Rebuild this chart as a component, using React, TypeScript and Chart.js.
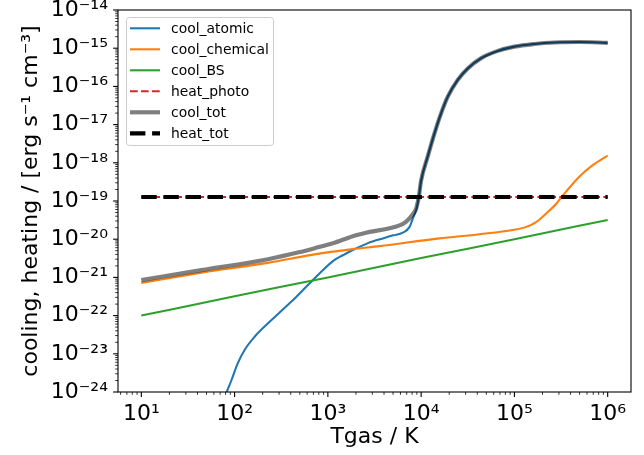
import React, { useEffect, useRef } from 'react';
import { Chart, registerables } from 'chart.js';
Chart.register(...registerables);

// ---- data ----
const atomicT = [71, 81.5, 92.3, 108, 128, 164, 228, 316, 440, 611, 849, 1160, 1450, 1850, 2690, 3890, 5010, 6370, 7520, 8150, 8850, 9440, 10000, 11800, 13900, 16400, 19300, 24700, 31600, 44100, 66400, 100000, 164000, 269000, 501000, 1000000];
const atomicV = [3.5e-25, 9.3e-25, 2.0e-24, 5.6e-24, 1.26e-23, 2.8e-23, 6.3e-23, 1.32e-22, 2.8e-22, 6.3e-22, 1.41e-21, 2.8e-21, 3.8e-21, 5.2e-21, 7.9e-21, 1.05e-20, 1.26e-20, 1.48e-20, 2.1e-20, 3.5e-20, 5.8e-20, 1.26e-19, 3.4e-19, 1.5e-18, 5.9e-18, 2.0e-17, 5.4e-17, 1.48e-16, 2.95e-16, 5.5e-16, 8.5e-16, 1.10e-15, 1.29e-15, 1.41e-15, 1.45e-15, 1.38e-15];

const chemT = [10, 44, 228, 720, 1850, 3580, 15700, 42300, 96200, 134000, 171000, 219000, 281000, 320000, 359000, 499000, 692000, 1000000];
const chemV = [7.2e-22, 1.32e-21, 2.4e-21, 4.0e-21, 5.5e-21, 6.6e-21, 1.05e-20, 1.35e-20, 1.74e-20, 2.1e-20, 2.8e-20, 4.7e-20, 8.5e-20, 1.26e-19, 1.78e-19, 4.4e-19, 8.7e-19, 1.55e-18];

const bsT = [10, 100, 1000, 10000, 100000, 1000000];
const bsV = [1.0e-22, 3.2e-22, 1.0e-21, 3.2e-21, 1.0e-20, 3.2e-20];

const heatT = [10, 1000000];
const photoV = [1.27e-19, 1.27e-19];
const heatTotV = [1.27e-19, 1.27e-19];

const totT = [10, 44, 228, 500, 720, 1130, 1850, 2570, 5860, 6920, 8150, 8850, 9440, 10000, 11800, 13900, 16400, 19300, 24700, 31600, 44100, 66400, 100000, 164000, 269000, 501000, 1000000];
const totV = [8.5e-22, 1.55e-21, 3.0e-21, 4.6e-21, 5.8e-21, 7.8e-21, 1.2e-20, 1.48e-20, 2.3e-20, 2.9e-20, 4.5e-20, 6.4e-20, 1.3e-19, 3.45e-19, 1.5e-18, 5.9e-18, 2.0e-17, 5.4e-17, 1.48e-16, 2.95e-16, 5.5e-16, 8.5e-16, 1.10e-15, 1.29e-15, 1.41e-15, 1.45e-15, 1.38e-15];

const seriesLabels = ['cool_atomic', 'cool_chemical', 'cool_BS', 'heat_photo', 'cool_tot', 'heat_tot'];
const xTitle = 'Tgas / K';
const yTitle = 'cooling, heating / [erg s⁻¹ cm⁻³]';
const xRange = [Math.pow(10, 0.75), Math.pow(10, 6.25)];
const yRange = [1e-24, 1e-14];

const FONT = 'DejaVu Sans';
const SUP: Record<string, string> = { '-': '⁻', '0': '⁰', '1': '¹', '2': '²', '3': '³', '4': '⁴', '5': '⁵', '6': '⁶', '7': '⁷', '8': '⁸', '9': '⁹' };

function pow10Label(v: number): string {
  const e = Math.round(Math.log10(v));
  if (Math.abs(v / Math.pow(10, e) - 1) > 1e-6) return '';
  return '10' + String(e).split('').map((c) => SUP[c]).join('');
}

function logTicks(min: number, max: number) {
  const out: { value: number; major: boolean }[] = [];
  const e0 = Math.floor(Math.log10(min));
  const e1 = Math.ceil(Math.log10(max));
  for (let e = e0; e <= e1; e++) {
    for (let m = 1; m <= 9; m++) {
      const v = m * Math.pow(10, e);
      if (v >= min * (1 - 1e-9) && v <= max * (1 + 1e-9)) out.push({ value: v, major: m === 1 });
    }
  }
  return out;
}

const pts = (xs: number[], ys: number[]) => xs.map((x, i) => ({ x, y: ys[i] }));

const decor = {
  id: 'decor',
  afterDraw(chart: any) {
    const { ctx, chartArea: a, scales } = chart;
    ctx.save();
    // frame
    ctx.strokeStyle = '#000';
    ctx.lineWidth = 1.1;
    ctx.strokeRect(a.left, a.top, a.right - a.left, a.bottom - a.top);
    // tick marks
    const xs = scales.x, ys = scales.y;
    for (const t of xs.ticks) {
      const px = xs.getPixelForValue(t.value);
      const len = t.major ? 4.9 : 2.8;
      ctx.lineWidth = t.major ? 1.1 : 0.8;
      ctx.beginPath();
      ctx.moveTo(px, a.bottom);
      ctx.lineTo(px, a.bottom + len);
      ctx.stroke();
    }
    for (const t of ys.ticks) {
      const py = ys.getPixelForValue(t.value);
      const len = t.major ? 4.9 : 2.8;
      ctx.lineWidth = t.major ? 1.1 : 0.8;
      ctx.beginPath();
      ctx.moveTo(a.left, py);
      ctx.lineTo(a.left - len, py);
      ctx.stroke();
    }
    // legend
    const bx = 126.5, by = 17.5, bw = 147, bh = 128, r = 3;
    ctx.beginPath();
    ctx.moveTo(bx + r, by);
    ctx.lineTo(bx + bw - r, by);
    ctx.arcTo(bx + bw, by, bx + bw, by + r, r);
    ctx.lineTo(bx + bw, by + bh - r);
    ctx.arcTo(bx + bw, by + bh, bx + bw - r, by + bh, r);
    ctx.lineTo(bx + r, by + bh);
    ctx.arcTo(bx, by + bh, bx, by + bh - r, r);
    ctx.lineTo(bx, by + r);
    ctx.arcTo(bx, by, bx + r, by, r);
    ctx.closePath();
    ctx.fillStyle = 'rgba(255,255,255,0.8)';
    ctx.fill();
    ctx.strokeStyle = '#cccccc';
    ctx.lineWidth = 1;
    ctx.stroke();
    chart.data.datasets.forEach((ds: any, i: number) => {
      const y = 28.3 + i * 21;
      ctx.save();
      ctx.strokeStyle = ds.borderColor;
      ctx.lineWidth = ds.borderWidth;
      ctx.setLineDash(ds.borderDash || []);
      ctx.lineCap = 'butt';
      ctx.beginPath();
      ctx.moveTo(130, y);
      ctx.lineTo(160, y);
      ctx.stroke();
      ctx.restore();
      ctx.fillStyle = '#000';
      ctx.font = `13.9px "${FONT}"`;
      ctx.textBaseline = 'alphabetic';
      ctx.textAlign = 'left';
      ctx.fillText(ds.label, 171, y + 5);
    });
    ctx.restore();
  },
};

export default function App() {
  const ref = useRef<HTMLCanvasElement>(null);
  useEffect(() => {
    document.body.style.margin = '0';
    const common = { pointRadius: 0, fill: false, borderJoinStyle: 'round' as const, cubicInterpolationMode: 'monotone' as const };
    const chart = new Chart(ref.current as HTMLCanvasElement, {
      type: 'line',
      data: {
        datasets: [
          { ...common, label: seriesLabels[0], data: pts(atomicT, atomicV), borderColor: '#1f77b4', borderWidth: 2.08, order: 6 },
          { ...common, label: seriesLabels[1], data: pts(chemT, chemV), borderColor: '#ff7f0e', borderWidth: 2.08, order: 5 },
          { ...common, label: seriesLabels[2], data: pts(bsT, bsV), borderColor: '#2ca02c', borderWidth: 2.08, order: 4 },
          { ...common, label: seriesLabels[3], data: pts(heatT, photoV), borderColor: '#d62728', borderWidth: 2.08, borderDash: [7.7, 3.3], order: 3 },
          { ...common, label: seriesLabels[4], data: pts(totT, totV), borderColor: 'rgba(0,0,0,0.5)', borderWidth: 4.17, order: 2 },
          { ...common, label: seriesLabels[5], data: pts(heatT, heatTotV), borderColor: '#000000', borderWidth: 4.17, borderDash: [15.4, 6.7], order: 1 },
        ] as any,
      },
      options: {
        responsive: false,
        devicePixelRatio: 1,
        animation: false,
        events: [],
        layout: { padding: { top: 10, right: 13, left: 0, bottom: 0 } },
        plugins: { legend: { display: false }, tooltip: { enabled: false } },
        scales: {
          x: {
            type: 'logarithmic',
            position: 'bottom',
            min: xRange[0],
            max: xRange[1],
            grid: { display: false, drawTicks: false },
            border: { display: false },
            afterBuildTicks: (s: any) => { s.ticks = logTicks(s.min, s.max); },
            afterFit: (s: any) => { s.height = 63; s.paddingLeft = 0; s.paddingRight = 0; },
            ticks: {
              callback: (v: any) => pow10Label(Number(v)),
              autoSkip: false, maxRotation: 0, minRotation: 0, padding: 9,
              color: '#000', font: { size: 22, family: FONT },
            },
            title: { display: true, text: xTitle, color: '#000', font: { size: 22, family: FONT }, padding: { top: 0, bottom: 5 } },
          },
          y: {
            type: 'logarithmic',
            position: 'left',
            min: yRange[0],
            max: yRange[1],
            grid: { display: false, drawTicks: false },
            border: { display: false },
            afterBuildTicks: (s: any) => { s.ticks = logTicks(s.min, s.max); },
            afterFit: (s: any) => { s.width = 118; s.paddingTop = 0; s.paddingBottom = 0; },
            ticks: {
              callback: (v: any) => pow10Label(Number(v)),
              autoSkip: false, padding: 10,
              color: '#000', font: { size: 22, family: FONT },
            },
            title: { display: true, text: yTitle, color: '#000', font: { size: 22, family: FONT }, padding: { top: 18, bottom: 0 } },
          },
        },
      } as any,
      plugins: [decor],
    });
    return () => chart.destroy();
  }, []);
  return (
    <div style={{ position: 'absolute', left: 0, top: 0, width: 644, height: 455, background: '#fff' }}>
      <canvas ref={ref} width={644} height={455} style={{ display: 'block', width: 644, height: 455 }} />
    </div>
  );
}
